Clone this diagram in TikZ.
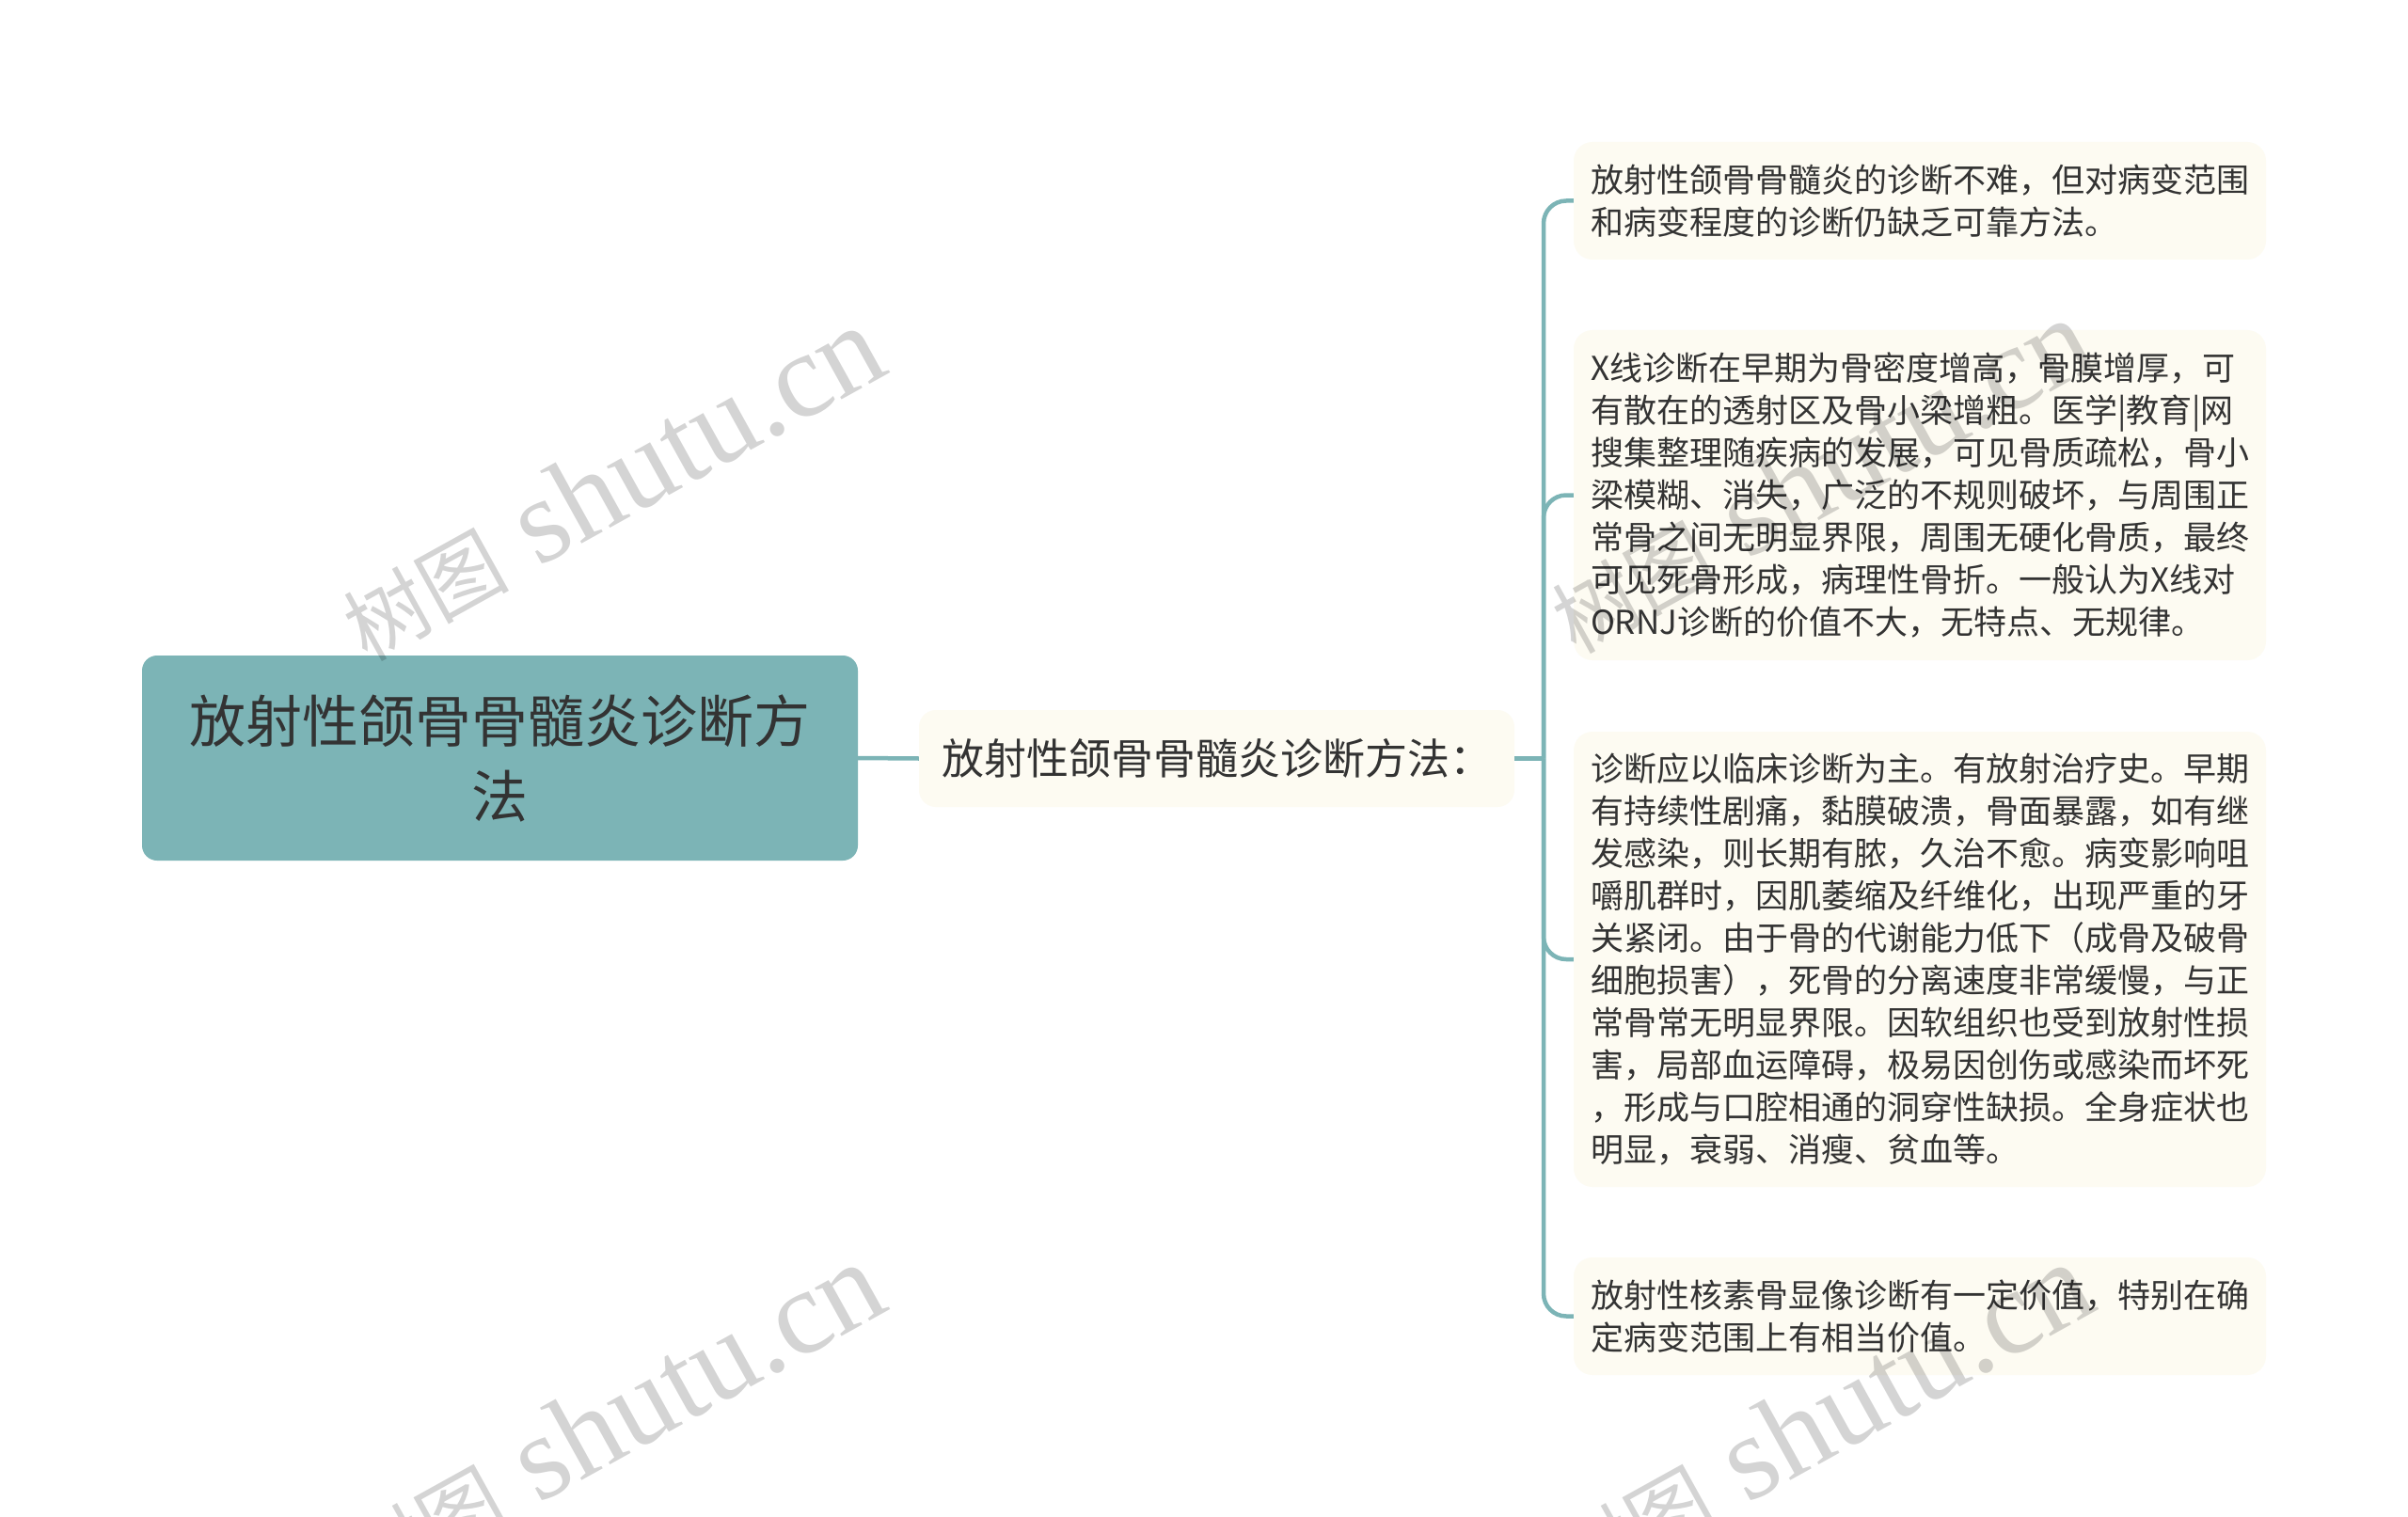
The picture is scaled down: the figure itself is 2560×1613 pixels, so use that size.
\documentclass[tikz,border=0pt]{standalone}
\usepackage{fontspec}
\setmainfont{Noto Sans CJK SC}
\newfontfamily\wmcjk{Noto Sans CJK SC}
\newfontfamily\wmlatin{Liberation Serif}
\definecolor{tealc}{RGB}{124,180,182}
\definecolor{creamc}{RGB}{253,251,242}
\definecolor{txtc}{RGB}{51,51,51}
\newcommand{\wmtext}{{\wmcjk\fontsize{88}{92}\selectfont 树图}{\wmlatin\fontsize{128}{132}\selectfont\ shutu.cn}}
\begin{document}
\begin{tikzpicture}[x=1pt,y=-1pt,
  rootbox/.style={fill=tealc, rounded corners=16pt, text=txtc,
    font=\fontsize{60}{80}\selectfont, text width=720pt, align=center,
    minimum width=761pt, minimum height=218pt, inner xsep=20.5pt, inner ysep=0pt},
  midbox/.style={fill=creamc, rounded corners=18pt, text=txtc,
    font=\fontsize{45}{54}\selectfont, minimum width=633pt, minimum height=103pt, inner sep=0pt},
  leafbox/.style={fill=creamc, rounded corners=20pt, text=txtc,
    font=\fontsize{35}{45}\selectfont, text width=700pt, align=left,
    minimum width=736pt, inner xsep=18pt, inner ysep=0pt},
  conn/.style={draw=tealc, line width=4.5pt},
  wm/.style={text=black, text opacity=0.17, rotate=29, inner sep=0pt}]
\useasboundingbox (0,0) rectangle (2560,1613);
\fill[white] (0,0) rectangle (2560,1613);
\clip (0,0) rectangle (2560,1613);

\node[rootbox] (root) at (531.5,806) {放射性颌骨骨髓炎诊断方\\法};
\node[midbox] (mid) at (1293.5,806.5) {放射性颌骨骨髓炎诊断方法：};

\node[leafbox, minimum height=125pt] (l1) at (2041,213.5) {放射性颌骨骨髓炎的诊断不难，但对病变范围\\和病变程度的诊断仍缺乏可靠方法。};
\node[leafbox, minimum height=351pt] (l2) at (2041,526.5) {X线诊断在早期为骨密度增高，骨膜增厚，可\\有散在的透射区及骨小梁增粗。医学|教育|网\\搜集整理随疾病的发展，可见骨质疏松，骨小\\梁模糊、消失，广泛的不规则破坏，与周围正\\常骨之间无明显界限，周围无硬化骨质，最终\\可见死骨形成，病理性骨折。一般认为X线对\\ORNJ诊断的价值不大，无特点、无规律。};
\node[leafbox, minimum height=484pt] (l3) at (2041,1020) {诊断应以临床诊断为主。有放射治疗史。早期\\有持续性剧痛，黏膜破溃，骨面暴露，如有继\\发感染，则长期有脓，久治不愈。病变影响咀\\嚼肌群时，因肌萎缩及纤维化，出现严重的牙\\关紧闭。由于骨的代谢能力低下（成骨及破骨\\细胞损害），死骨的分离速度非常缓慢，与正\\常骨常无明显界限。因软组织也受到放射性损\\害，局部血运障碍，极易因创伤或感染而坏死\\，形成与口腔相通的洞穿性缺损。全身症状也\\明显，衰弱、消瘦、贫血等。};
\node[leafbox, minimum height=125pt] (l4) at (2041,1399.5) {放射性核素骨显像诊断有一定价值，特别在确\\定病变范围上有相当价值。};

\coordinate (sp) at (1641,806.5);
\draw[conn] (root.east) -- (mid.west);
\draw[conn] (mid.east) -- (sp);
\draw[conn, rounded corners=24pt] (sp) |- (l1.west);
\draw[conn, rounded corners=24pt] (sp) |- (l2.west);
\draw[conn, rounded corners=24pt] (sp) |- (l3.west);
\draw[conn, rounded corners=24pt] (sp) |- (l4.west);

\node[wm] (wm1) at (650,514) {\wmtext};
\node[wm] (wm2) at (1935,506) {\wmtext};
\node[wm] (wm3) at (650,1510) {\wmtext};
\node[wm] (wm4) at (1935,1510) {\wmtext};
\end{tikzpicture}
\end{document}
